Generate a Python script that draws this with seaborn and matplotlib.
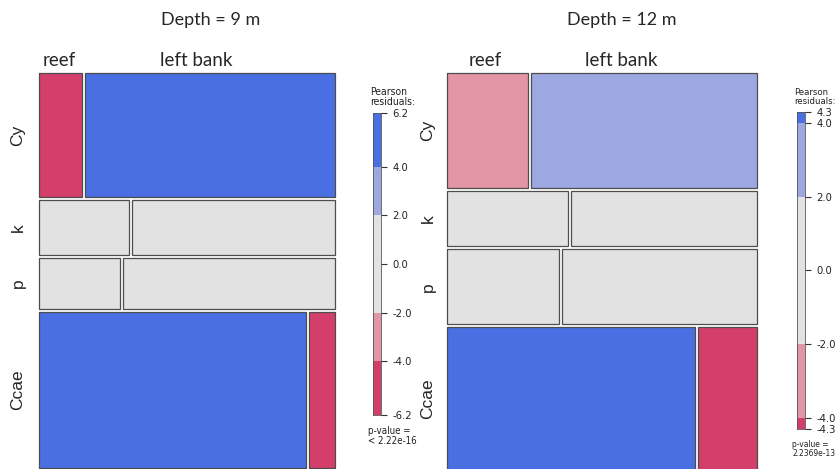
import numpy as np
import seaborn as sns
import matplotlib.pyplot as plt

# mosaic data: counts per species (rows) and site (columns)
species = ["Cy", "k", "p", "Ccae"]
sites = ["reef", "left bank"]
depth_titles = ["Depth = 9 m", "Depth = 12 m"]
counts_9m = [[13, 75], [12, 27], [10, 26], [101, 10]]
counts_12m = [[21, 59], [15, 23], [19, 33], [80, 19]]
pvalue_labels = ["p-value =\n< 2.22e-16", "p-value =\n2.2369e-13"]

sns.set_theme(style="white")
plt.rcParams["font.family"] = ["Liberation Sans", "DejaVu Sans"]
plt.rcParams["axes.unicode_minus"] = False
NARROW = dict(family="DejaVu Sans", fontstretch="condensed")

W, H = 837, 469
fig = plt.figure(figsize=(W / 100, H / 100), dpi=100)
fig.patch.set_facecolor("white")


def px_box(x0, y0, x1, y1):
    return [x0 / W, 1 - y1 / H, (x1 - x0) / W, (y1 - y0) / H]


def pearson_residuals(tab):
    tab = np.array(tab, dtype=float)
    expected = np.outer(tab.sum(1), tab.sum(0)) / tab.sum()
    return (tab - expected) / np.sqrt(expected)


# vcd shading_hcl colours
BLUE, LBLUE, GREY, LRED, RED = "#4A6FE3", "#9DA8E2", "#E2E2E2", "#E495A5", "#D33F6A"


def shade(r):
    if r > 4:
        return BLUE
    if r > 2:
        return LBLUE
    if r < -4:
        return RED
    if r < -2:
        return LRED
    return GREY


def mosaic(ax, tab, gap_x, gap_y):
    tab = np.array(tab, dtype=float)
    res = pearson_residuals(tab)
    row_tot = tab.sum(1)
    avail_y = 1 - gap_y * (len(row_tot) - 1)
    heights = avail_y * row_tot / tab.sum()
    y = 0
    for i in range(tab.shape[0]):
        avail_x = 1 - gap_x * (tab.shape[1] - 1)
        widths = avail_x * tab[i] / row_tot[i]
        x = 0
        for j in range(tab.shape[1]):
            ax.barh(y + heights[i] / 2, widths[j], height=heights[i], left=x,
                    color=shade(res[i, j]), edgecolor="#4d4d4d", linewidth=0.9,
                    clip_on=False)
            x += widths[j] + gap_x
        y += heights[i] + gap_y
    ax.set_xlim(0, 1)
    ax.set_ylim(1, 0)
    ax.axis("off")
    return res


def legend(ax, res):
    m = round(np.abs(res).max(), 1)
    bins = [(-m, -4, RED), (-4, -2, LRED), (-2, 2, GREY), (2, 4, LBLUE), (4, m, BLUE)]
    for lo, hi, c in bins:
        ax.bar(0, hi - lo, bottom=lo, width=1, color=c, linewidth=0)
    ax.set_xlim(-0.5, 0.5)
    ax.set_ylim(-m, m)
    ticks = [-m, -4, -2, 0, 2, 4, m]
    ax.set_yticks(ticks)
    ax.set_yticklabels(["%.1f" % t for t in ticks], fontsize=8, color="#222222",
                       **NARROW)
    ax.yaxis.tick_right()
    ax.tick_params(axis="y", length=4, width=0.8, color="#333333", pad=4, right=True)
    ax.set_xticks([])
    for s in ax.spines.values():
        s.set_visible(True)
        s.set_color("#555555")
        s.set_linewidth(0.6)


panels = [
    dict(tab=counts_9m, box=(39, 73, 335, 468), leg=(373, 113, 381, 415),
         title_x=211, rowlab_x=18, collab=[59, 196], txt_size=7.5, pv_size=7),
    dict(tab=counts_12m, box=(447, 73, 757, 470), leg=(797, 112, 805, 429),
         title_x=622, rowlab_x=428, collab=[485, 621], txt_size=6.8, pv_size=6),
]

for k, p in enumerate(panels):
    x0, y0, x1, y1 = p["box"]
    ax = fig.add_axes(px_box(*p["box"]))
    gx = 3 / (x1 - x0)
    gy = 3 / (y1 - y0)
    res = mosaic(ax, p["tab"], gx, gy)

    # row labels
    tab = np.array(p["tab"], dtype=float)
    row_tot = tab.sum(1)
    heights = (1 - gy * 3) * row_tot / tab.sum()
    yc = np.cumsum(heights + gy) - gy - heights / 2
    for name, yy in zip(species, yc):
        fig.text(p["rowlab_x"] / W, 1 - (y0 + yy * (y1 - y0)) / H, name,
                 rotation=90, ha="center", va="center", fontsize=12.5)
    # column labels
    for name, cx in zip(sites, p["collab"]):
        fig.text(cx / W, 1 - 60 / H, name, ha="center", va="center", fontsize=13.5,
                 family=["Lato", "DejaVu Sans"])
    # title
    fig.text(p["title_x"] / W, 1 - 20 / H, depth_titles[k], ha="center", va="center",
             fontsize=13, family=["Lato", "DejaVu Sans"])

    lx0, ly0, lx1, ly1 = p["leg"]
    lax = fig.add_axes(px_box(*p["leg"]))
    legend(lax, res)
    fig.text((lx0 - 3) / W, 1 - (ly0 - 6) / H, "Pearson\nresiduals:", ha="left", va="bottom",
             fontsize=p["txt_size"], linespacing=0.95, color="#222222", **NARROW)
    fig.text((lx0 - 5) / W, 1 - (ly1 + 11) / H, pvalue_labels[k], ha="left", va="top",
             fontsize=p["pv_size"], linespacing=0.95, color="#222222", **NARROW)

fig.savefig("out.png", dpi=100)
